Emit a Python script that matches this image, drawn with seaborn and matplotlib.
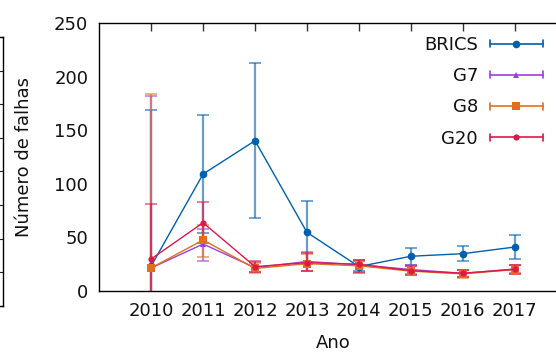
import numpy as np
import pandas as pd
import matplotlib
matplotlib.use("Agg")
import matplotlib.pyplot as plt
from matplotlib.lines import Line2D
from matplotlib.legend_handler import HandlerLine2D
import seaborn as sns

# ---------------- data ----------------
anos = [2010, 2011, 2012, 2013, 2014, 2015, 2016, 2017]
grupos = ["BRICS", "G7", "G8", "G20"]

brics = [23.3, 109.1, 140.2, 54.7, 22.8, 32.4, 34.8, 41.0]
brics_lo = [-10, 53.8, 67.8, 25.0, 18.5, 24.6, 28.0, 29.4]
brics_hi = [168.6, 164.2, 212.7, 84.0, 28.0, 40.4, 41.7, 52.5]

g7 = [21.5, 43.8, 21.8, 27.5, 24.5, 20.0, 16.5, 20.5]
g7_lo = [-10, 28.3, 17.5, 19.0, 18.0, 15.5, 13.0, 16.5]
g7_hi = [181.6, 58.0, 27.0, 36.7, 29.0, 24.5, 20.0, 24.5]

g8 = [21.5, 47.6, 21.0, 25.5, 23.5, 18.5, 16.0, 20.0]
g8_lo = [-10, 32.0, 17.0, 18.5, 17.5, 14.5, 12.5, 16.0]
g8_hi = [183.5, 62.0, 26.0, 34.5, 28.5, 23.0, 19.5, 24.0]

g20 = [29.9, 63.7, 22.7, 26.5, 24.9, 19.0, 16.5, 20.2]
g20_lo = [-10, 45.0, 18.0, 18.7, 17.0, 14.5, 13.0, 16.0]
g20_hi = [81.4, 83.3, 28.0, 35.0, 28.9, 23.5, 20.0, 24.0]

valores = {"BRICS": brics, "G7": g7, "G8": g8, "G20": g20}
baixos = {"BRICS": brics_lo, "G7": g7_lo, "G8": g8_lo, "G20": g20_lo}
altos = {"BRICS": brics_hi, "G7": g7_hi, "G8": g8_hi, "G20": g20_hi}

cores = {"BRICS": "#0060ad", "G7": "#9a40e0", "G8": "#e0701e", "G20": "#e0174a"}
marcadores = {"BRICS": "o", "G7": "^", "G8": "s", "G20": "o"}
tamanhos = {"BRICS": 5.5, "G7": 5, "G8": 5.5, "G20": 4.5}

df = pd.DataFrame(
    [(g, a, v, lo, hi) for g in grupos
     for a, v, lo, hi in zip(anos, valores[g], baixos[g], altos[g])],
    columns=["Grupo", "Ano", "Falhas", "Min", "Max"],
)

# ---------------- style ----------------
sns.set_style("white")
plt.rcParams["font.family"] = ["DejaVu Sans"]
plt.rcParams["font.size"] = 13

fig = plt.figure(figsize=(5.56, 3.52), dpi=100)

# fragment of a neighbouring panel at the far left
ax0 = fig.add_axes([-0.5, 0.1307, 0.5054, 0.7642])
ax0.set_xlim(0, 1)
ax0.set_ylim(0, 1)
ax0.set_xticks([])
ax0.yaxis.tick_right()
ax0.set_yticks(np.linspace(0, 1, 9))
ax0.tick_params(axis="y", direction="in", length=3.5, width=0.8, labelright=False,
                color="#222222")
for s in ax0.spines.values():
    s.set_color("#000000")
    s.set_linewidth(1.0)

# main axes (right part extends past the image edge)
ax = fig.add_axes([0.1785, 0.1733, 0.8405, 0.7614])

for g in grupos:
    sub = df[df["Grupo"] == g]
    y = sub["Falhas"].to_numpy()
    err = np.vstack([y - sub["Min"].to_numpy(), sub["Max"].to_numpy() - y])
    ax.errorbar(sub["Ano"], y, yerr=err, fmt="none", ecolor=cores[g],
                elinewidth=1.6, capsize=4, capthick=1.3, alpha=0.6, zorder=2)
    sns.lineplot(data=sub, x="Ano", y="Falhas", color=cores[g],
                 marker=marcadores[g], markersize=tamanhos[g],
                 markeredgewidth=0, linewidth=1.0, ax=ax, zorder=3,
                 legend=False, errorbar=None)

ax.set_xlim(2009, 2018)
ax.set_ylim(0, 250)
ax.set_xticks(anos)
ax.set_xticklabels([str(a) for a in anos])
ax.set_yticks([0, 50, 100, 150, 200, 250])
ax.tick_params(axis="both", direction="in", length=6, width=1.0,
               color="#333333", labelsize=13, pad=8,
               top=True, right=True, labelcolor="#111111")
for s in ax.spines.values():
    s.set_color("#000000")
    s.set_linewidth(1.0)
ax.set_xlabel("Ano", fontsize=13, labelpad=10, color="#111111")
ax.set_ylabel("Número de falhas", fontsize=13, labelpad=15, color="#111111")


class HandlerErrH(HandlerLine2D):
    def create_artists(self, legend, orig_handle, xdescent, ydescent,
                       width, height, fontsize, trans):
        arts = super().create_artists(legend, orig_handle, xdescent, ydescent,
                                      width, height, fontsize, trans)
        yc = height / 2 - ydescent
        h = height * 0.55
        for x in (-xdescent, -xdescent + width):
            c = Line2D([x, x], [yc - h / 2, yc + h / 2],
                       color=orig_handle.get_color(), lw=1.2)
            c.set_transform(trans)
            arts.append(c)
        return arts


handles = [Line2D([], [], color=cores[g], marker=marcadores[g],
                  markersize=tamanhos[g], markeredgewidth=0, lw=1.2)
           for g in grupos]
leg = fig.legend(handles, grupos, loc="upper right",
                 bbox_to_anchor=(543 / 556, (352 - 36) / 352),
                 bbox_transform=fig.transFigure, frameon=False,
                 markerfirst=False, numpoints=1, handlelength=2.95,
                 handletextpad=0.65, labelspacing=0.73, borderpad=0,
                 borderaxespad=0, fontsize=13,
                 handler_map={Line2D: HandlerErrH()})
for t in leg.get_texts():
    t.set_ha("right")
    t.set_color("#111111")

fig.savefig("out.png", dpi=100)
